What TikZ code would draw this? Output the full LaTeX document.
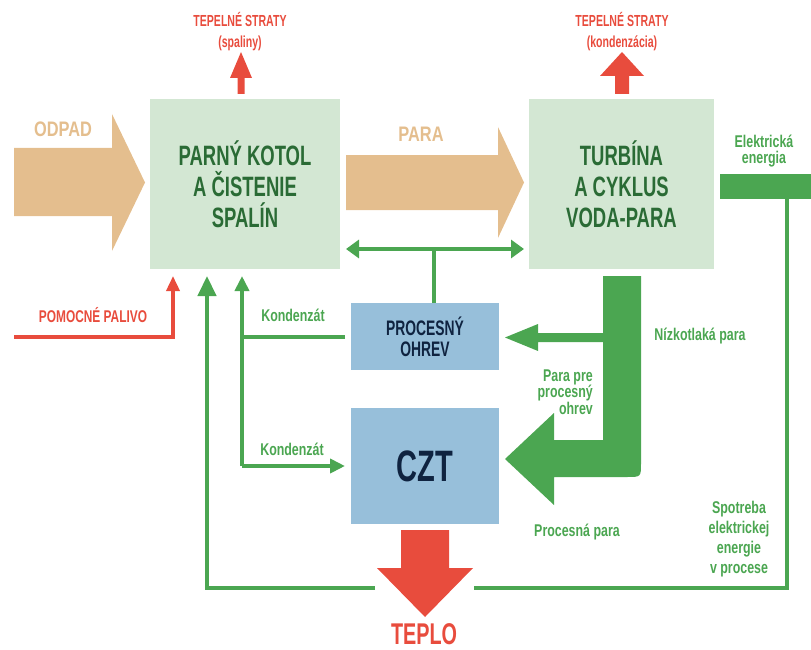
\documentclass[tikz,border=0pt]{standalone}
\usepackage{fontspec}
\setmainfont[FakeStretch=0.66]{Liberation Sans}
\newfontfamily\lblfont[FakeStretch=0.73]{Liberation Sans}
\newfontfamily\tanfont[FakeStretch=0.78]{Liberation Sans}
\newfontfamily\ppfont[FakeStretch=0.7]{Liberation Sans}
\usetikzlibrary{arrows.meta}
\definecolor{gbox}{HTML}{D3E7D3}
\definecolor{gtext}{HTML}{2A6B35}
\definecolor{garr}{HTML}{4BA651}
\definecolor{redc}{HTML}{E84C3D}
\definecolor{tan}{HTML}{E4BE8E}
\definecolor{bbox}{HTML}{97BFDA}
\definecolor{navy}{HTML}{0F2340}
\begin{document}
\begin{tikzpicture}[x=1pt,y=-1pt,
  greenbox/.style={fill=gbox,draw=none,inner sep=0pt,text=gtext,font=\fontsize{28}{31}\selectfont\bfseries,align=center},
  bluebox/.style={fill=bbox,draw=none,inner sep=0pt,text=navy,align=center},
  glab/.style={text=garr,font=\lblfont\fontsize{17}{16.5}\selectfont\bfseries,align=center,inner sep=0pt},
  rlab/.style={text=redc,font=\fontsize{16}{21}\selectfont\bfseries,align=center,inner sep=0pt},
  tlab/.style={text=tan,font=\tanfont\fontsize{21}{24}\selectfont\bfseries,inner sep=0pt},
  gline/.style={draw=garr,line width=4.5pt},
  bigtip/.style={-{Triangle[length=20pt,width=18pt]}},
  smalltip/.style={-{Triangle[length=15pt,width=14pt]}},
]
\useasboundingbox (0,0) rectangle (811,650);

% boxes
\node[greenbox,minimum width=190pt,minimum height=170pt] (boiler) at (245,184) {PARNÝ KOTOL\\A ČISTENIE\\SPALÍN};
\node[greenbox,minimum width=185pt,minimum height=170pt] (turb) at (621.5,184) {TURBÍNA\\A CYKLUS\\VODA-PARA};
\node[bluebox,minimum width=148pt,minimum height=67pt,font=\fontsize{21}{21}\selectfont\bfseries] (po) at (425,336.5) {PROCESNÝ\\OHREV};
\node[bluebox,minimum width=148pt,minimum height=116pt,font=\fontsize{44}{44}\selectfont\bfseries] (czt) at (425,466) {CZT};

% big tan arrows
\fill[tan] (14,148) -- (112,148) -- (112,114) -- (145,182.5) -- (112,251) -- (112,216) -- (14,216) -- cycle;
\fill[tan] (346,155) -- (498,155) -- (498,127) -- (524,182.5) -- (498,238) -- (498,210) -- (346,210) -- cycle;
\node[tlab] (odpad) at (63,129) {ODPAD};
\node[tlab] (para) at (421,134) {PARA};

% red heat loss arrows
\fill[redc] (237.5,94) -- (237.5,78) -- (230,78) -- (241,52) -- (252,78) -- (244.5,78) -- (244.5,94) -- cycle;
\fill[redc] (615,94) -- (615,76) -- (600,76) -- (622,52) -- (644,76) -- (629,76) -- (629,94) -- cycle;
\node[rlab] (ts1) at (240,32) {TEPELNÉ STRATY\\(spaliny)};
\node[rlab] (ts2) at (622,32) {TEPELNÉ STRATY\\(kondenzácia)};

% electricity
\fill[garr] (720,174) rectangle (811,199);
\node[glab] (el) at (764,151) {Elektrická\\energia};
\coordinate (elb) at (787,199);
\coordinate (loopR) at (474,588);
\draw[gline] (elb) |- (loopR);

% teplo arrow
\fill[redc] (401,530) -- (449,530) -- (449,568) -- (473,568) -- (425,617) -- (377,568) -- (401,568) -- cycle;
\node[text=redc,font=\fontsize{30}{30}\selectfont\bfseries,inner sep=0pt,text depth=0pt] (teplo) at (424,634) {TEPLO};

% left return loop
\coordinate (loopL) at (375,588);
\coordinate (bin1) at (207,276);
\draw[gline,bigtip] (loopL) -| (bin1);

% kondenzat lines
\coordinate (k1) at (242,337);
\coordinate (k2) at (242,466);
\coordinate (bin2) at (242,276);
\coordinate (poW) at (345,337);
\coordinate (cztW) at (345,466);
\draw[gline,smalltip] (k2) -- (bin2);
\draw[gline] (poW) -- (k1);
\draw[gline,smalltip] (k2) -- (cztW);
\node[glab] (kd1) at (293,315) {Kondenzát};
\node[glab] (kd2) at (292,449) {Kondenzát};

% pomocne palivo
\coordinate (pp0) at (14,337);
\coordinate (bin0) at (173,276);
\draw[draw=redc,line width=3.5pt,-{Triangle[length=15pt,width=13pt]}] (pp0) -| (bin0);
\node[rlab,font=\ppfont\fontsize{17}{20}\selectfont\bfseries] (pp) at (93,315) {POMOCNÉ PALIVO};

% double arrow between boxes
\coordinate (dl) at (346,249);
\coordinate (dr) at (524,249);
\coordinate (dm) at (434,249);
\draw[gline,{Triangle[length=13pt,width=18pt]}-{Triangle[length=13pt,width=18pt]}] (dl) -- (dr);
\draw[gline] (po.north -| dm) -- (dm);

% thick green steam arrow
\fill[garr] (603,276) -- (641,276) -- (641,463) .. controls (641,477) .. (627,477) -- (554,477) -- (554,505) -- (505,459) -- (554,413) -- (554,440) -- (603,440) -- cycle;
\fill[garr] (603,333) -- (538,333) -- (538,324) -- (505,337.5) -- (538,351) -- (538,342) -- (603,342) -- cycle;
\node[glab] (nt) at (700,336) {Nízkotlaká para};
\node[glab,align=right,anchor=east] (ppo) at (593,392) {Para pre\\procesný\\ohrev};
\node[glab] (pra) at (577,532) {Procesná para};
\node[glab,font=\lblfont\fontsize{17}{20}\selectfont\bfseries] (sp) at (739,539) {Spotreba\\elektrickej\\energie\\v procese};
\end{tikzpicture}
\end{document}
